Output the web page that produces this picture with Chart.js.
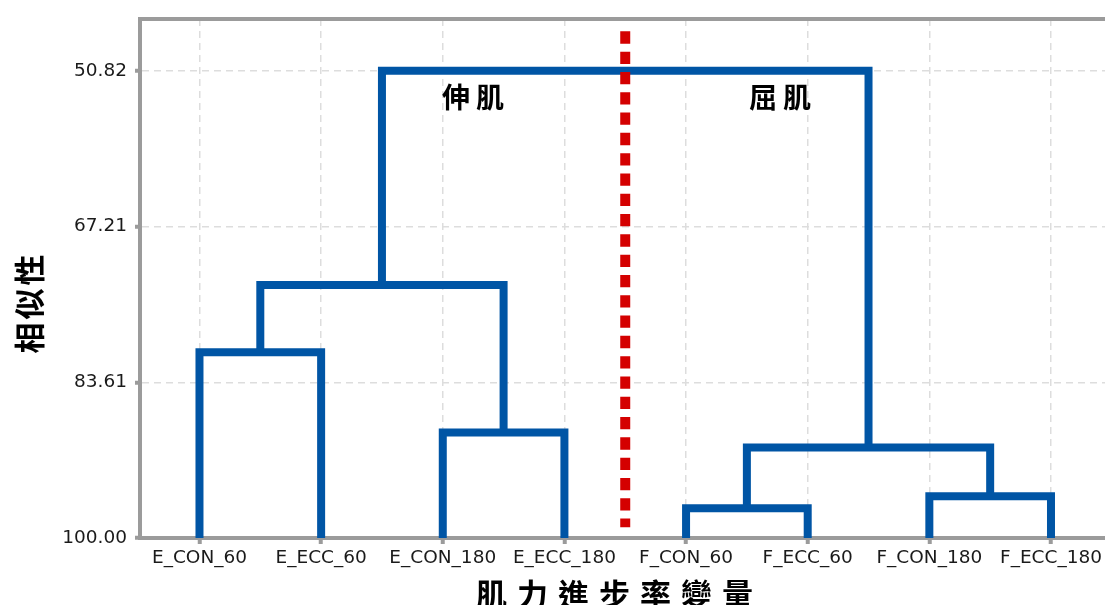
<!DOCTYPE html>
<html>
<head>
<meta charset="utf-8">
<title>肌力進步率變量 群集樹狀圖</title>
<script src="https://cdn.jsdelivr.net/npm/chart.js@4.4.1/dist/chart.umd.min.js"></script>
<style>
  html, body { margin: 0; padding: 0; background: #ffffff; overflow: hidden; }
  #wrap { width: 1105px; height: 605px; }
</style>
</head>
<body>
<div id="wrap"><canvas id="c" width="1105" height="605"></canvas></div>
<script>
// Leaves of the dendrogram, left to right
const categories = ['E_CON_60', 'E_ECC_60', 'E_CON_180', 'E_ECC_180',
                    'F_CON_60', 'F_ECC_60', 'F_CON_180', 'F_ECC_180'];

// Similarity levels marked on the axis
const similarityTicks = [50.82, 67.21, 83.61, 100.00];

// Linkage table: node 8 + k joins linkLeft[k] and linkRight[k] at linkHeight[k]
const linkLeft   = [0, 2, 4, 6, 8, 10, 12];
const linkRight  = [1, 3, 5, 7, 9, 11, 13];
const linkHeight = [80.45, 88.90, 96.86, 95.60, 73.37, 90.47, 50.82];

// Similarity of a single leaf
const leafSimilarity = 100;

// Muscle-group names and the boundary between the two groups
const groupNames = ['伸肌', '屈肌'];
const groupBoundary = 3.5;
const boundarySpan = [46.67, 98.88];

// Node coordinates (leaf index / midpoint of children, similarity)
const nodeX = categories.map((_, i) => i);
const nodeY = categories.map(() => leafSimilarity);
linkLeft.forEach((l, k) => {
  const r = linkRight[k];
  nodeX.push((nodeX[l] + nodeX[r]) / 2);
  nodeY.push(linkHeight[k]);
});

const BLUE = '#0055A5';
const RED = '#D40000';
const AXIS = '#9b9b9b';
const GRID = '#dddddd';
const TICK_FONT = { family: 'DejaVu Sans', size: 18.5 };
const CJK = '"Noto Sans CJK TC", "Noto Sans CJK SC", sans-serif';

const linkSets = linkLeft.map((l, k) => {
  const r = linkRight[k];
  const h = linkHeight[k];
  return {
    label: 'link ' + (k + 1),
    data: [
      { x: nodeX[l], y: nodeY[l] },
      { x: nodeX[l], y: h },
      { x: nodeX[r], y: h },
      { x: nodeX[r], y: nodeY[r] }
    ],
    showLine: true,
    borderColor: BLUE,
    borderWidth: 8,
    borderJoinStyle: 'miter',
    borderCapStyle: 'butt',
    pointRadius: 0,
    pointHoverRadius: 0,
    fill: false,
    tension: 0,
    order: 2
  };
});

const boundarySet = {
  label: 'boundary',
  data: [
    { x: groupBoundary, y: boundarySpan[0] },
    { x: groupBoundary, y: boundarySpan[1] }
  ],
  showLine: true,
  borderColor: RED,
  borderWidth: 10,
  borderDash: [12.3, 8],
  borderCapStyle: 'butt',
  pointRadius: 0,
  pointHoverRadius: 0,
  fill: false,
  order: 1
};

// Group captions are anchored in data units
const groupAnchors = [
  { x: 2.248, y: 53.62 },
  { x: 4.772, y: 53.62 }
];

function spacedText(ctx, text, cx, cy, spacing) {
  ctx.letterSpacing = spacing + 'px';
  const w = ctx.measureText(text).width - spacing;
  ctx.textAlign = 'left';
  ctx.fillText(text, cx - w / 2, cy);
}

const decorations = {
  id: 'decorations',
  afterDraw(chart) {
    const { ctx, chartArea, scales } = chart;
    ctx.save();
    // top frame line
    ctx.strokeStyle = AXIS;
    ctx.lineWidth = 4;
    ctx.beginPath();
    ctx.moveTo(chartArea.left - 2, chartArea.top);
    ctx.lineTo(chartArea.right, chartArea.top);
    ctx.stroke();

    ctx.fillStyle = '#000000';
    ctx.textBaseline = 'middle';

    // group captions
    ctx.font = 'bold 28px ' + CJK;
    groupNames.forEach((name, i) => {
      const px = scales.x.getPixelForValue(groupAnchors[i].x);
      const py = scales.y.getPixelForValue(groupAnchors[i].y);
      spacedText(ctx, name, px, py, 6);
    });

    // x axis title
    ctx.font = 'bold 31px ' + CJK;
    spacedText(ctx, '肌力進步率變量', 614.5, 594, 10);

    // y axis title
    ctx.save();
    ctx.translate(29, 304);
    ctx.rotate(-Math.PI / 2);
    ctx.font = 'bold 31px ' + CJK;
    spacedText(ctx, '相似性', 0, 0, 3);
    ctx.restore();

    ctx.restore();
  }
};

new Chart(document.getElementById('c'), {
  type: 'scatter',
  data: { datasets: [boundarySet, ...linkSets] },
  options: {
    responsive: false,
    animation: false,
    devicePixelRatio: 1,
    layout: { padding: { top: 16, right: 0, left: 0, bottom: 0 } },
    plugins: {
      legend: { display: false },
      tooltip: { enabled: false },
      title: { display: false }
    },
    scales: {
      x: {
        type: 'linear',
        position: 'bottom',
        min: -0.489,
        max: 7.444,
        afterBuildTicks: s => { s.ticks = categories.map((_, i) => ({ value: i })); },
        afterFit: s => { s.height = 67; },
        ticks: {
          callback: v => categories[v],
          font: TICK_FONT,
          color: '#1a1a1a',
          padding: 3,
          maxRotation: 0,
          autoSkip: false
        },
        grid: {
          color: GRID,
          lineWidth: 1.5,
          tickColor: AXIS,
          tickWidth: 4,
          tickLength: 6,
          tickBorderDash: []
        },
        border: { color: AXIS, width: 4, dash: [7, 5] }
      },
      y: {
        type: 'linear',
        position: 'left',
        reverse: true,
        min: 45.38,
        max: 100,
        afterBuildTicks: s => { s.ticks = similarityTicks.map(v => ({ value: v })); },
        afterFit: s => { s.width = 140; },
        ticks: {
          callback: v => Number(v).toFixed(2),
          font: TICK_FONT,
          color: '#1a1a1a',
          padding: 8
        },
        grid: {
          color: GRID,
          lineWidth: 1.5,
          tickColor: AXIS,
          tickWidth: 4,
          tickLength: 5,
          tickBorderDash: []
        },
        border: { color: AXIS, width: 4, dash: [7, 5] }
      }
    }
  },
  plugins: [decorations]
});
</script>
</body>
</html>
